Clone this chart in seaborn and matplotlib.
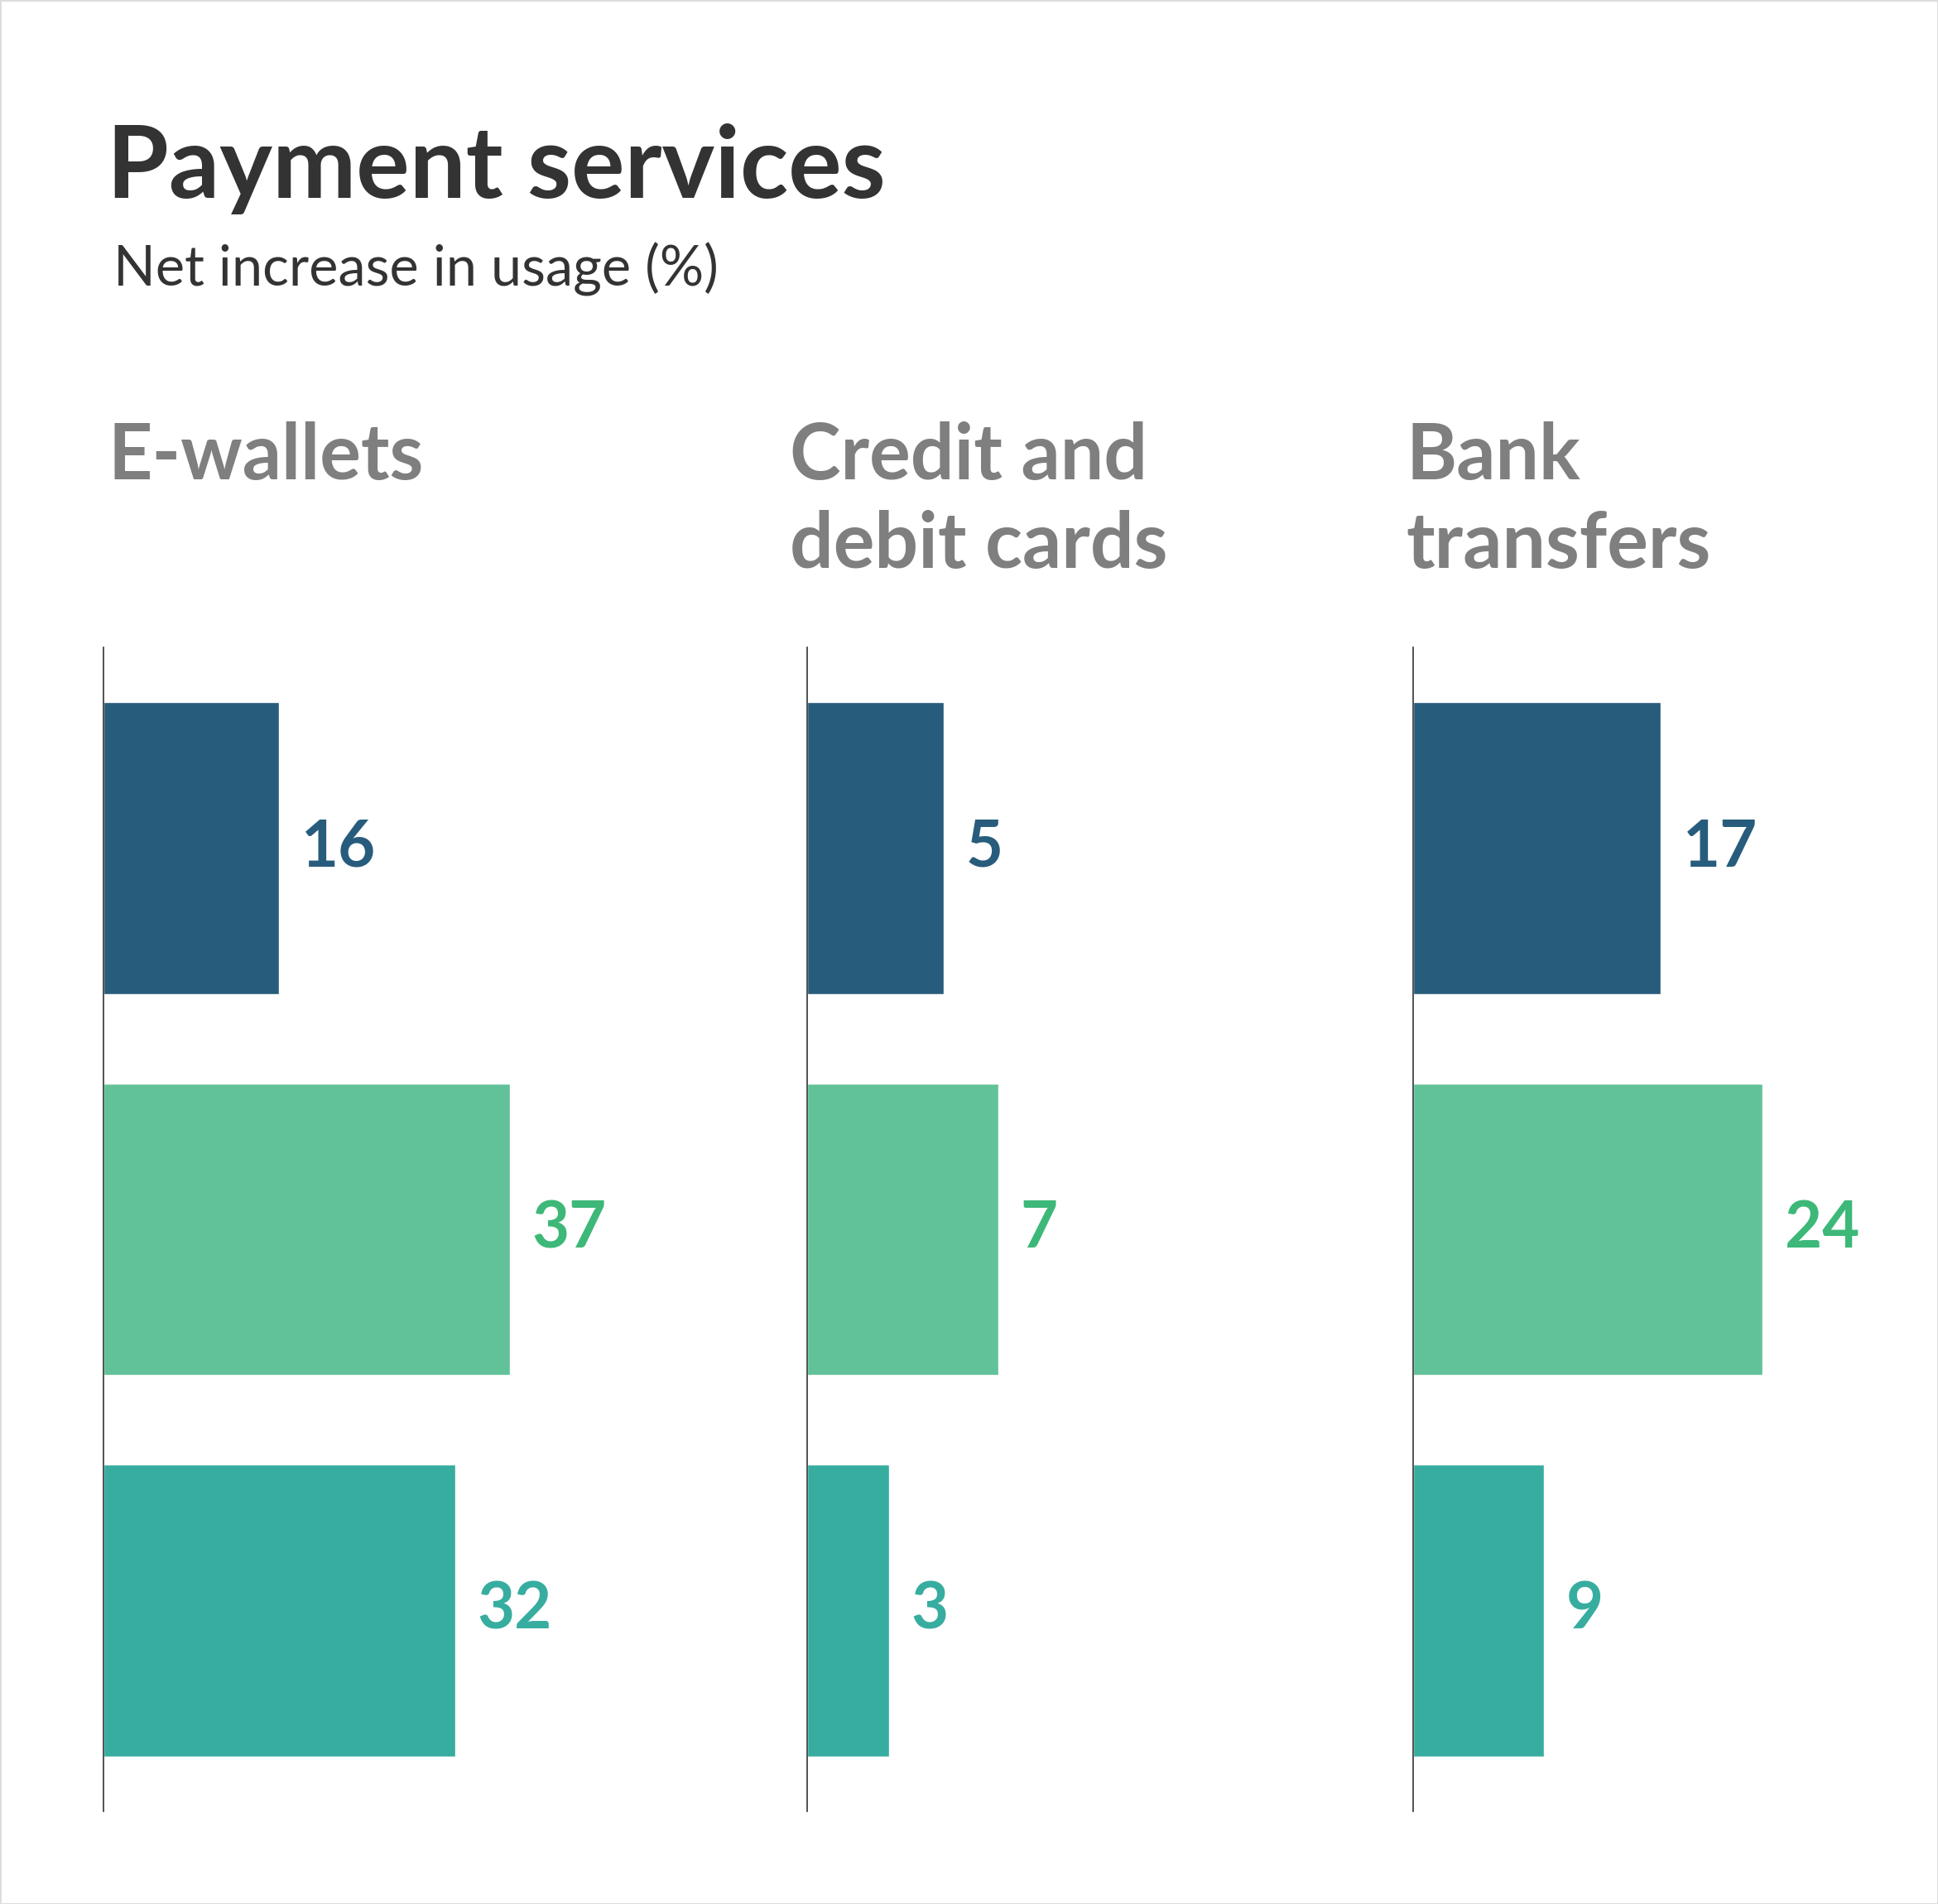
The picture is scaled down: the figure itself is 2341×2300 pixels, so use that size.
import matplotlib
matplotlib.use("Agg")
import matplotlib.pyplot as plt
import seaborn as sns
import pandas as pd

# chart data
panels = ["E-wallets", "Credit and\ndebit cards", "Bank\ntransfers"]
series = ["Series 1", "Series 2", "Series 3"]
ewallets = [16, 37, 32]
cards = [5, 7, 3]
transfers = [17, 24, 9]

bar_colors = ["#285C7C", "#61C299", "#37ADA0"]
label_colors = ["#285C7C", "#3DB878", "#37ADA0"]

rows = []
for panel, vals in zip(panels, [ewallets, cards, transfers]):
    for s, v in zip(series, vals):
        rows.append({"panel": panel, "series": s, "value": v})
df = pd.DataFrame(rows)

sns.set_style("white")
plt.rcParams["font.family"] = ["Lato", "DejaVu Sans"]

W, H = 2341, 2300
fig = plt.figure(figsize=(W / 100, H / 100), dpi=100)
fig.patch.set_edgecolor("#dddddd")
fig.patch.set_linewidth(2)

fig.text(129 / W, 1 - 239 / H, "Payment services", fontsize=87, fontweight="bold",
         color="#333333", va="baseline", ha="left")
fig.text(137 / W, 1 - 346 / H, "Net increase in usage (%)", fontsize=48, fontweight="normal",
         color="#333333", va="baseline", ha="left")

# axis line x position (px) and pixels per unit for each panel
axis_x = [125, 975, 1707]
title_x = [130, 954, 1698]
px_per_unit = [13.27, 33.0, 17.6]
panel_w = 600
ax_top, ax_bot = 782, 2188

for i, panel in enumerate(panels):
    ax = fig.add_axes([axis_x[i] / W, 1 - ax_bot / H, panel_w / W, (ax_bot - ax_top) / H])
    sub = df[df["panel"] == panel]
    sns.barplot(data=sub, x="value", y="series", hue="series", palette=bar_colors,
                orient="h", width=0.766, saturation=1, legend=False, ax=ax)
    ax.set_xlim(0, panel_w / px_per_unit[i])
    ax.set_ylim(2.527, -0.527)
    for c, col in zip(ax.containers, label_colors):
        ax.bar_label(c, fmt="%d", padding=19, fontsize=56, fontweight="bold", color=col)
    sns.despine(ax=ax, top=True, right=True, bottom=True, left=False)
    ax.spines["left"].set_color("#333333")
    ax.spines["left"].set_linewidth(1.2)
    ax.set_xticks([])
    ax.set_yticks([])
    ax.set_xlabel("")
    ax.set_ylabel("")
    ax.patch.set_alpha(0)

    for k, line in enumerate(panel.split("\n")):
        fig.text(title_x[i] / W, 1 - (579 + 107 * k) / H, line, fontsize=67,
                 fontweight="bold", color="#7f7f7f", va="baseline", ha="left")

fig.savefig("out.png", dpi=100)
